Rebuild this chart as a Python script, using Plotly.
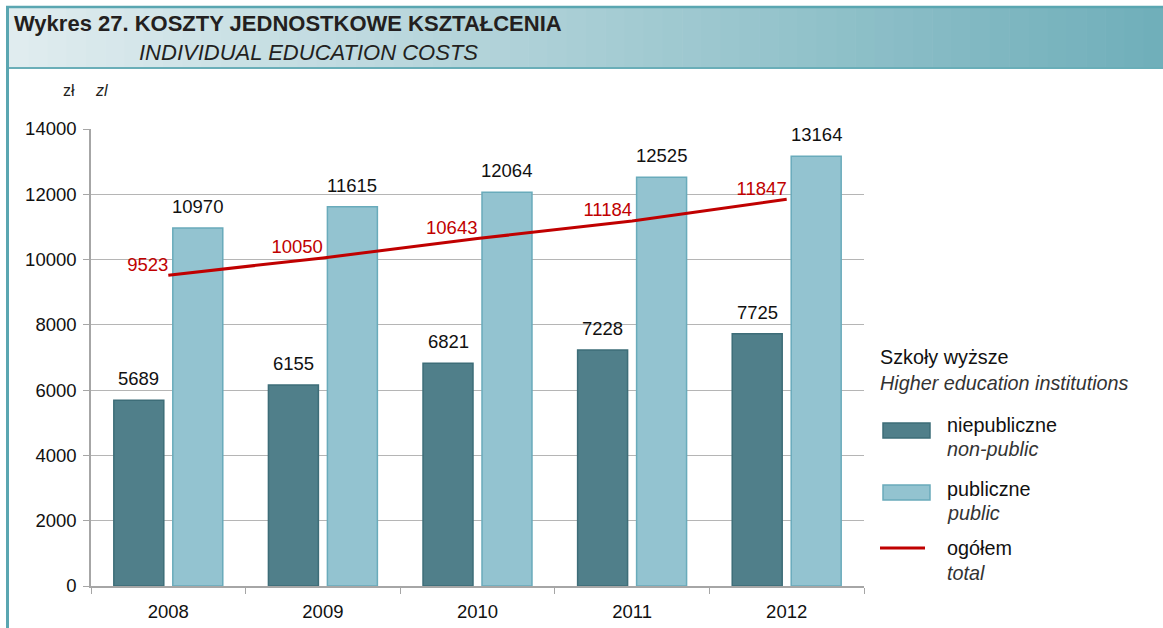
import plotly.graph_objects as go

years = ["2008", "2009", "2010", "2011", "2012"]
non_public = [5689, 6155, 6821, 7228, 7725]
public = [10970, 11615, 12064, 12525, 13164]
total = [9523, 10050, 10643, 11184, 11847]
y_ticks = [0, 2000, 4000, 6000, 8000, 10000, 12000, 14000]

W, H = 1163, 628
L, R, T, B = 91, 299, 129, 42
PW, PH = W - L - R, H - T - B

def px(x):
    return (x - L) / PW

def py(y):
    return (H - B - y) / PH

FONT = "Liberation Sans Narrow, Arial Narrow, Liberation Sans, Arial"
DARK = "#507f8a"
DARK_LINE = "#3d6d78"
LIGHT = "#93c3d0"
LIGHT_LINE = "#69abbb"
RED = "#c00000"
NUM = 18.5
BARGAP = 0.237
GROUPGAP = 0.1525

fig = go.Figure()
fig.add_trace(go.Bar(
    x=years, y=non_public, name="niepubliczne",
    marker=dict(color=DARK, line=dict(color=DARK_LINE, width=1.5)),
))
fig.add_trace(go.Bar(
    x=years, y=public, name="publiczne",
    marker=dict(color=LIGHT, line=dict(color=LIGHT_LINE, width=1.5)),
))
fig.add_trace(go.Scatter(
    x=years, y=total, name="ogółem", mode="lines+text",
    line=dict(color=RED, width=3), cliponaxis=False,
    text=[str(v) for v in total], textposition="top left",
    textfont=dict(family=FONT, size=NUM, color=RED),
))

annotations = []
# bar value labels (category index on the category axis, offset to each bar's centre within its group)
slot = PW / len(years) * (1 - BARGAP) / 2
for series, sign in ((non_public, -1), (public, 1)):
    for i, v in enumerate(series):
        annotations.append(dict(x=i, y=v, xref="x", yref="y", text=str(v), showarrow=False,
                                xanchor="center", yanchor="bottom", xshift=sign * slot / 2, yshift=9,
                                font=dict(family=FONT, size=NUM, color="#111111")))

shapes = []
# header gradient band
c0 = (224, 236, 239)
c1 = (112, 175, 186)
n = 60
x0p, x1p = 9, W
for i in range(n):
    t = i / (n - 1)
    c = tuple(int(round(c0[k] + (c1[k] - c0[k]) * t)) for k in range(3))
    xa = x0p + (x1p - x0p) * i / n
    xb = x0p + (x1p - x0p) * (i + 1) / n + 0.6
    shapes.append(dict(type="rect", xref="paper", yref="paper",
                       x0=px(xa), x1=px(xb), y0=py(67), y1=py(8),
                       fillcolor="rgb(%d,%d,%d)" % c, line=dict(width=0), layer="below"))
# header borders
shapes.append(dict(type="line", xref="paper", yref="paper", x0=px(6), x1=px(W), y0=py(7), y1=py(7),
                   line=dict(color="#5aa6b1", width=2.5)))
shapes.append(dict(type="line", xref="paper", yref="paper", x0=px(6), x1=px(W), y0=py(68), y1=py(68),
                   line=dict(color="#6aaeb8", width=2)))
shapes.append(dict(type="line", xref="paper", yref="paper", x0=px(7.5), x1=px(7.5), y0=py(6), y1=py(H),
                   line=dict(color="#5aa6b1", width=3)))

# title texts
annotations.append(dict(xref="paper", yref="paper", x=px(12), y=py(24), text="<b>Wykres 27. KOSZTY JEDNOSTKOWE KSZTAŁCENIA</b>",
                        showarrow=False, xanchor="left", yanchor="middle",
                        font=dict(family=FONT, size=22, color="#231f20")))
annotations.append(dict(xref="paper", yref="paper", x=px(137), y=py(52), text="<i>INDIVIDUAL EDUCATION COSTS</i>",
                        showarrow=False, xanchor="left", yanchor="middle",
                        font=dict(family=FONT, size=22, color="#231f20")))
annotations.append(dict(xref="paper", yref="paper", x=px(61), y=py(91), text="zł",
                        showarrow=False, xanchor="left", yanchor="middle",
                        font=dict(family=FONT, size=16, color="#231f20")))
annotations.append(dict(xref="paper", yref="paper", x=px(93), y=py(91), text="<i>zl</i>",
                        showarrow=False, xanchor="left", yanchor="middle",
                        font=dict(family=FONT, size=16, color="#231f20")))

# legend (manual)
LF = dict(family=FONT, size=19.8, color="#111111")
LFI = dict(family=FONT, size=19.8, color="#333333")
def text(x, y, s, f):
    annotations.append(dict(xref="paper", yref="paper", x=px(x), y=py(y), text=s, showarrow=False,
                            xanchor="left", yanchor="middle", font=f))
text(878, 357, "Szkoły wyższe", LF)
text(878, 383, "<i>Higher education institutions</i>", LFI)
shapes.append(dict(type="rect", xref="paper", yref="paper", x0=px(883), x1=px(930), y0=py(438), y1=py(423),
                   fillcolor=DARK, line=dict(color=DARK_LINE, width=1.5)))
text(945, 425, "niepubliczne", LF)
text(945, 449, "<i>non-public</i>", LFI)
shapes.append(dict(type="rect", xref="paper", yref="paper", x0=px(883), x1=px(930), y0=py(500), y1=py(485),
                   fillcolor=LIGHT, line=dict(color=LIGHT_LINE, width=1.5)))
text(945, 489, "publiczne", LF)
text(945, 513, "<i>public</i>", LFI)
shapes.append(dict(type="line", xref="paper", yref="paper", x0=px(880), x1=px(925), y0=py(548), y1=py(548),
                   line=dict(color=RED, width=3)))
text(945, 548, "ogółem", LF)
text(945, 573, "<i>total</i>", LFI)

fig.update_layout(
    width=W, height=H,
    margin=dict(l=L, r=R, t=T, b=B, pad=0, autoexpand=False),
    paper_bgcolor="white", plot_bgcolor="white",
    barmode="group", bargap=BARGAP, bargroupgap=GROUPGAP,
    showlegend=False,
    font=dict(family=FONT, size=19, color="#111111"),
    shapes=shapes, annotations=annotations,
    xaxis=dict(type="category", range=[-0.5, len(years) - 0.5], autorange=False,
               showgrid=False, showline=True, linecolor="#a6a6a6", linewidth=1.5,
               ticks="outside", tickson="boundaries", ticklen=6, tickcolor="#a6a6a6",
               tickangle=0, automargin=False, ticklabelstandoff=8,
               tickfont=dict(family=FONT, size=NUM, color="#111111")),
    yaxis=dict(range=[0, 14000], autorange=False, tickvals=y_ticks, ticktext=[str(v) for v in y_ticks],
               showgrid=True, gridcolor="#b5b5b5", gridwidth=1, automargin=False,
               showline=True, linecolor="#a6a6a6", linewidth=1.5, ticks="outside", ticklen=6,
               tickcolor="#a6a6a6", zeroline=False, ticklabelstandoff=3,
               tickfont=dict(family=FONT, size=NUM, color="#111111")),
)

fig.write_html("out.html", config={"displayModeBar": False},
               post_script="document.body.style.margin='0';document.body.style.padding='0';")
